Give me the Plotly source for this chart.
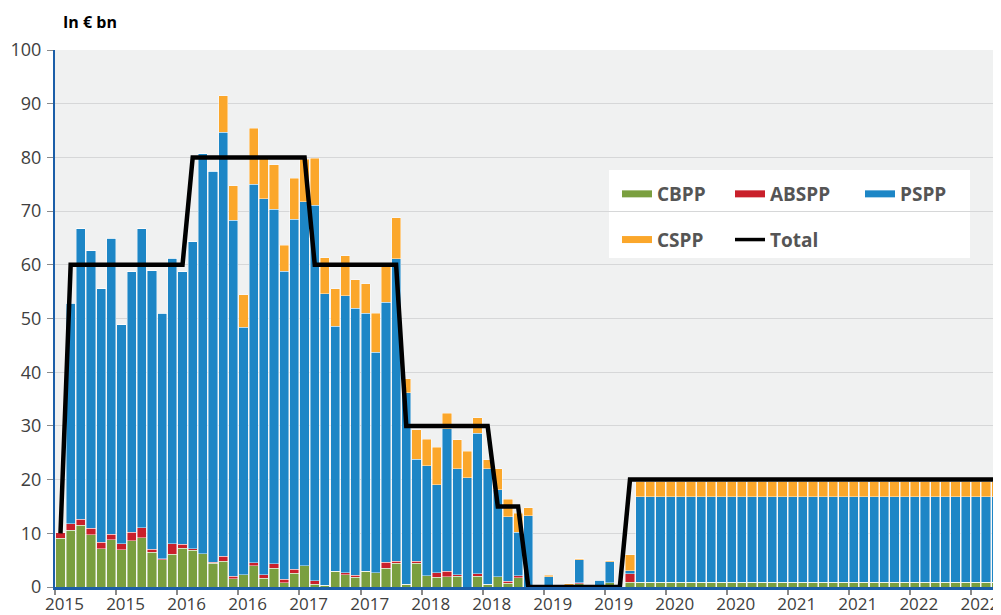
import plotly.graph_objects as go
import pandas as pd

# Monthly categories (Mar 2015 .. Nov 2022)
months = [p.strftime("%Y-%m") for p in pd.period_range("2015-03", "2022-11", freq="M")]

cbpp = [9.1, 10.6, 11.5, 9.7, 7.1, 8.8, 6.9, 8.6, 9.2, 6.5, 5.1, 6.1, 7.2, 6.8, 6.2, 4.4,
        4.8, 1.5, 2.3, 4.0, 1.6, 3.5, 0.8, 2.6, 4.0, 0.5, 0.3, 2.9, 2.3, 1.8, 2.9, 2.7,
        3.5, 4.4, 0.5, 4.4, 2.1, 1.8, 1.9, 2.0, 0.0, 2.0, 0.5, 1.9, 0.7, 1.7, 0.0, 0.0,
        0.0, 0.0, 0.0, 0.6, 0.0, 0.0, 0.8, 0.0, 0.9,
        0.9, 0.9, 0.9, 0.9, 0.9, 0.9, 0.9, 0.9, 0.9, 0.9, 0.9, 0.9,
        0.9, 0.9, 0.9, 0.9, 0.9, 0.9, 0.9, 0.9, 0.9, 0.9, 0.9, 0.9,
        0.9, 0.9, 0.9, 0.9, 0.9, 0.9, 0.9, 0.9, 0.9, 0.9, 0.9, 0.9]

abspp = [1.1, 1.2, 1.1, 1.2, 1.2, 1.0, 1.2, 1.6, 1.8, 0.5, 0.2, 2.0, 0.8, 0.3, 0.0, 0.2,
         0.9, 0.5, 0.0, 0.5, 0.7, 0.8, 0.6, 0.7, 0.0, 0.7, 0.0, 0.0, 0.4, 0.4, 0.0, 0.0,
         1.1, 0.4, 0.0, 0.4, 0.0, 0.9, 1.0, 0.3, 0.0, 0.5, 0.0, 0.0, 0.4, 0.4, 0.0, 0.0,
         0.0, 0.0, 0.2, 0.2, 0.0, 0.0, 0.0, 0.0, 1.6,
         0.0, 0.0, 0.0, 0.0, 0.0, 0.0, 0.0, 0.0, 0.0, 0.0, 0.0, 0.0,
         0.0, 0.0, 0.0, 0.0, 0.0, 0.0, 0.0, 0.0, 0.0, 0.0, 0.0, 0.0,
         0.0, 0.0, 0.0, 0.0, 0.0, 0.0, 0.0, 0.0, 0.0, 0.0, 0.0, 0.0]

pspp = [0.0, 41.0, 54.1, 51.7, 47.2, 55.1, 40.7, 48.5, 55.7, 51.9, 45.7, 53.1, 50.7, 57.2,
        74.5, 72.8, 79.0, 66.3, 46.1, 70.5, 70.0, 66.0, 57.4, 65.2, 67.7, 69.9, 54.3, 45.7,
        51.5, 49.7, 48.1, 41.0, 48.4, 56.3, 35.7, 19.0, 20.5, 16.3, 26.6, 19.7, 20.3, 26.1,
        21.5, 16.2, 12.0, 8.1, 13.3, 0.0, 1.9, 0.0, 0.1, 4.3, 0.0, 1.3, 3.9, 0.0, 0.5,
        15.9, 15.9, 15.9, 15.9, 15.9, 15.9, 15.9, 15.9, 15.9, 15.9, 15.9, 15.9,
        15.9, 15.9, 15.9, 15.9, 15.9, 15.9, 15.9, 15.9, 15.9, 15.9, 15.9, 15.9,
        15.9, 15.9, 15.9, 15.9, 15.9, 15.9, 15.9, 15.9, 15.9, 15.9, 15.9, 15.9]

cspp = [0.0, 0.0, 0.0, 0.0, 0.0, 0.0, 0.0, 0.0, 0.0, 0.0, 0.0, 0.0, 0.0, 0.0, 0.0, 0.0,
        6.8, 6.4, 6.0, 10.4, 8.0, 8.3, 4.8, 7.6, 8.0, 8.7, 6.7, 6.9, 7.5, 5.3, 5.5, 7.3,
        6.6, 7.7, 2.6, 5.5, 4.9, 7.0, 2.9, 5.4, 5.0, 2.9, 1.7, 3.9, 3.2, 3.5, 1.5, 0.0,
        0.3, 0.0, 0.3, 0.2, 0.0, 0.0, 0.2, 0.0, 3.0,
        2.8, 2.8, 2.8, 2.8, 2.8, 2.8, 2.8, 2.8, 2.8, 2.8, 2.8, 2.8,
        2.8, 2.8, 2.8, 2.8, 2.8, 2.8, 2.8, 2.8, 2.8, 2.8, 2.8, 2.8,
        2.8, 2.8, 2.8, 2.8, 2.8, 2.8, 2.8, 2.8, 2.8, 2.8, 2.8, 2.8]

total = [10, 60, 60, 60, 60, 60, 60, 60, 60, 60, 60, 60, 60,
         80, 80, 80, 80, 80, 80, 80, 80, 80, 80, 80, 80,
         60, 60, 60, 60, 60, 60, 60, 60, 60,
         30, 30, 30, 30, 30, 30, 30, 30, 30,
         15, 15, 15,
         0, 0, 0, 0, 0, 0, 0, 0, 0, 0,
         20, 20, 20, 20, 20, 20, 20, 20, 20, 20, 20, 20, 20,
         20, 20, 20, 20, 20, 20, 20, 20, 20, 20, 20, 20,
         20, 20, 20, 20, 20, 20, 20, 20, 20, 20, 20, 20]

tick_labels = ["2015", "2015", "2016", "2016", "2017", "2017", "2018", "2018",
               "2019", "2019", "2020", "2020", "2021", "2021", "2022", "2022"]
tick_months = ["2015-03", "2015-09", "2016-03", "2016-09", "2017-03", "2017-09",
               "2018-03", "2018-09", "2019-03", "2019-09", "2020-03", "2020-09",
               "2021-03", "2021-09", "2022-03", "2022-09"]

x = list(range(len(months)))
tick_idx = [months.index(m) for m in tick_months]

COLORS = {"CBPP": "#7a9f3f", "ABSPP": "#c9202b", "PSPP": "#1d86c6", "CSPP": "#fba72b"}
FONT = "Open Sans"

fig = go.Figure()
for name, vals in [("CBPP", cbpp), ("ABSPP", abspp), ("PSPP", pspp), ("CSPP", cspp)]:
    fig.add_trace(go.Bar(
        x=x, y=vals, name=name, customdata=months, showlegend=False,
        marker=dict(color=COLORS[name], line=dict(color="rgba(255,255,255,0.55)", width=0.8)),
        hovertemplate="%{customdata}: %{y}<extra>" + name + "</extra>"))

fig.add_trace(go.Scatter(x=x, y=total, name="Total", mode="lines", customdata=months,
                         line=dict(color="black", width=4.5), showlegend=False,
                         hovertemplate="%{customdata}: %{y}<extra>Total</extra>"))

# legend entries (wide swatches)
legend_items = [("CBPP", COLORS["CBPP"], 7, "legend"), ("CSPP", COLORS["CSPP"], 7, "legend"),
                ("ABSPP", COLORS["ABSPP"], 7, "legend2"), ("Total", "black", 3.5, "legend2"),
                ("PSPP", COLORS["PSPP"], 7, "legend3")]
for i, (name, col, w, lg) in enumerate(legend_items):
    fig.add_trace(go.Scatter(x=[None], y=[None], mode="lines", name=name,
                             line=dict(color=col, width=w), legend=lg,
                             legendgroup=name, hoverinfo="skip"))

# the page body has an 8px margin: figure coords = screen coords - 8
OFF = 8
FW, FH = 1001 - OFF, 615 - OFF
L, R, T, B = 55 - OFF, 1001 - OFF, 50 - OFF, 587 - OFF
W, H = R - L, B - T
px = lambda v: (v - OFF - L) / W      # screen px -> paper x
py = lambda v: (B - (v - OFF)) / H    # screen px -> paper y

legfont = dict(family=FONT, size=19, color="#555555", weight="bold")
common = dict(bgcolor="rgba(0,0,0,0)", borderwidth=0, font=legfont, xanchor="left",
              yanchor="top", tracegroupgap=18, traceorder="grouped", itemwidth=30)

fig.update_layout(
    width=FW, height=FH,
    margin=dict(l=L, r=FW - R, t=T, b=FH - B, autoexpand=False),
    paper_bgcolor="white", plot_bgcolor="#f0f1f1",
    barmode="stack", bargap=0.1,
    font=dict(family=FONT, color="#404040"),
    legend=dict(x=px(617), y=py(175), **common),
    legend2=dict(x=px(730), y=py(175), **common),
    legend3=dict(x=px(860), y=py(175), **common),
    xaxis=dict(range=[-0.54, 92.48], showgrid=False, zeroline=False,
               showline=True, linecolor="#1b5ea8", linewidth=2.5,
               tickmode="array", tickvals=[i + 0.4 for i in tick_idx], ticktext=tick_labels,
               ticks="", tickfont=dict(family=FONT, size=17, color="#404040"),
               minor=dict(tickmode="array", tickvals=[i - 0.5 for i in tick_idx],
                          ticks="outside", ticklen=5, tickwidth=1.5, tickcolor="#8a8a8a",
                          showgrid=False)),
    yaxis=dict(range=[0, 100], tickmode="array", tickvals=list(range(0, 101, 10)),
               showgrid=True, gridcolor="#d6d7d8", gridwidth=1, zeroline=False,
               showline=True, linecolor="#1b5ea8", linewidth=2,
               ticks="outside", ticklen=6, tickcolor="#8a8a8a", tickwidth=1,
               ticklabelstandoff=2,
               tickfont=dict(family=FONT, size=18, color="#404040")),
    shapes=[dict(type="rect", xref="paper", yref="paper", layer="below",
                 x0=px(609), x1=px(970), y0=py(258), y1=py(170),
                 fillcolor="white", line=dict(width=0))],
    annotations=[dict(text="<b>In € bn</b>", xref="paper", yref="paper",
                      x=px(61), y=py(22), xanchor="left", yanchor="middle", showarrow=False,
                      font=dict(family=FONT, size=16, color="black"))],
)

fig.write_html("out.html")
